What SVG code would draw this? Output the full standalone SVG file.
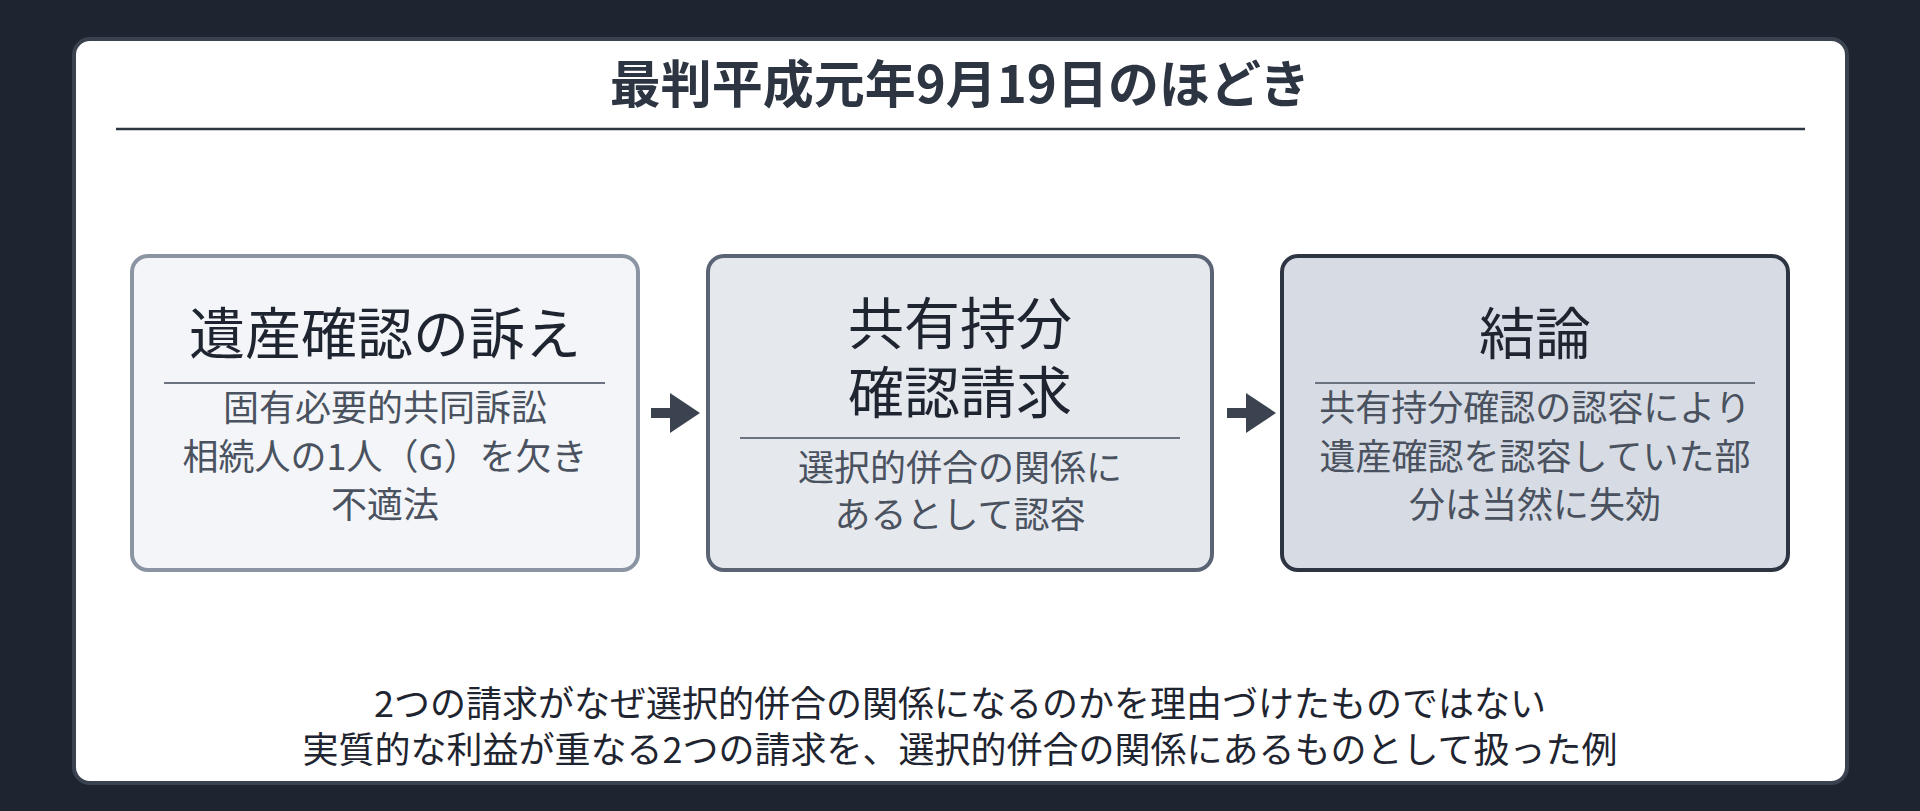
<svg xmlns="http://www.w3.org/2000/svg" width="1920" height="811" viewBox="0 0 1920 811">
<style>
.t{font-family:"Noto Sans CJK JP","Noto Sans",sans-serif;text-anchor:middle}
.h{font-size:56px;fill:#1f2530}
.s{font-size:36px;fill:#4a5260}
.b{font-size:36px;fill:#1f2530}
</style>
<defs><marker id="ah" markerWidth="4" markerHeight="4" refX="2" refY="2" orient="auto" markerUnits="strokeWidth"><path d="M0,0L3,2L0,4z" fill="#3b4350"/></marker></defs>
<rect width="1920" height="811" fill="#1e2530"/>
<rect x="74" y="39" width="1773" height="744" rx="16" fill="#fff" stroke="#3a4250" stroke-width="4"/>
<g id="title"><text class="t" x="960" y="103" font-size="51" font-weight="bold" fill="#2d3542">最判平成元年9月19日のほどき</text>
<line x1="116" y1="129" x2="1805" y2="129" stroke="#2d3542" stroke-width="2.5"/></g>
<g id="n1"><rect x="132" y="256" width="506" height="314" rx="16" fill="#f3f5f8" stroke="#8a94a3" stroke-width="4"/>
<text class="t h" x="385" y="354">遺産確認の訴え</text>
<line x1="164" y1="383" x2="605" y2="383" stroke="#6b7280" stroke-width="2"/>
<text class="t s" x="385" y="421">固有必要的共同訴訟</text><text class="t s" x="385" y="470">相続人の1人（G）を欠き</text><text class="t s" x="385" y="518">不適法</text></g>
<g id="n2"><rect x="708" y="256" width="504" height="314" rx="16" fill="#e5e8ed" stroke="#5a6475" stroke-width="4"/>
<text class="t h" x="960" y="344">共有持分</text><text class="t h" x="960" y="413">確認請求</text>
<line x1="740" y1="438" x2="1180" y2="438" stroke="#6b7280" stroke-width="2"/>
<text class="t s" x="960" y="481">選択的併合の関係に</text><text class="t s" x="960" y="528">あるとして認容</text></g>
<g id="n3"><rect x="1282" y="256" width="506" height="314" rx="16" fill="#d7dce4" stroke="#2d3542" stroke-width="4"/>
<text class="t h" x="1535" y="354">結論</text>
<line x1="1315" y1="383" x2="1755" y2="383" stroke="#6b7280" stroke-width="2"/>
<text class="t s" x="1535" y="421">共有持分確認の認容により</text><text class="t s" x="1535" y="470">遺産確認を認容していた部</text><text class="t s" x="1535" y="518">分は当然に失効</text></g>
<g id="connectors" stroke="#3b4350" stroke-width="10" fill="none">
<line x1="651" y1="413" x2="690" y2="413" marker-end="url(#ah)"/>
<line x1="1227" y1="413" x2="1266" y2="413" marker-end="url(#ah)"/>
</g>
<g id="note"><text class="t b" x="960" y="717">2つの請求がなぜ選択的併合の関係になるのかを理由づけたものではない</text>
<text class="t b" x="960" y="763">実質的な利益が重なる2つの請求を、選択的併合の関係にあるものとして扱った例</text></g>
</svg>
